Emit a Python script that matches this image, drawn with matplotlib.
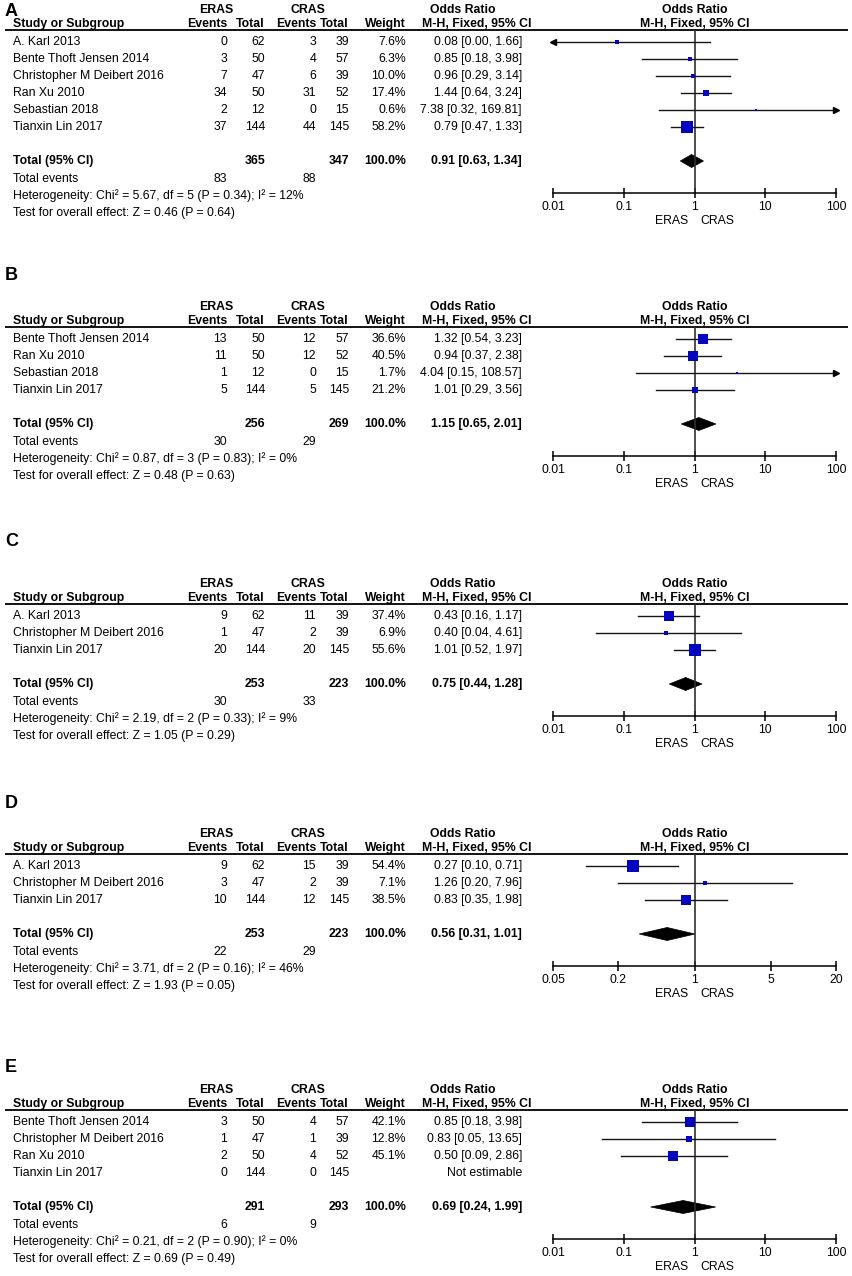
import numpy as np
import matplotlib
matplotlib.use("Agg")
import matplotlib.pyplot as plt
from matplotlib.patches import Polygon
from matplotlib.ticker import FixedLocator, FixedFormatter, NullLocator
from matplotlib.transforms import blended_transform_factory

plt.rcParams['font.family'] = ['Liberation Sans', 'DejaVu Sans']

# ---- data ----
a_studies = ["A. Karl 2013", "Bente Thoft Jensen 2014", "Christopher M Deibert 2016",
             "Ran Xu 2010", "Sebastian 2018", "Tianxin Lin 2017"]
a_eras_ev = [0, 3, 7, 34, 2, 37]
a_eras_tot = [62, 50, 47, 50, 12, 144]
a_cras_ev = [3, 4, 6, 31, 0, 44]
a_cras_tot = [39, 57, 39, 52, 15, 145]
a_weight = [7.6, 6.3, 10.0, 17.4, 0.6, 58.2]
a_or = [0.08, 0.85, 0.96, 1.44, 7.38, 0.79]
a_lo = [0.00, 0.18, 0.29, 0.64, 0.32, 0.47]
a_hi = [1.66, 3.98, 3.14, 3.24, 169.81, 1.33]
a_total = [365, 347, 0.91, 0.63, 1.34]
a_events = [83, 88]
a_het = "Heterogeneity: Chi² = 5.67, df = 5 (P = 0.34); I² = 12%"
a_test = "Test for overall effect: Z = 0.46 (P = 0.64)"

b_studies = ["Bente Thoft Jensen 2014", "Ran Xu 2010", "Sebastian 2018", "Tianxin Lin 2017"]
b_eras_ev = [13, 11, 1, 5]
b_eras_tot = [50, 50, 12, 144]
b_cras_ev = [12, 12, 0, 5]
b_cras_tot = [57, 52, 15, 145]
b_weight = [36.6, 40.5, 1.7, 21.2]
b_or = [1.32, 0.94, 4.04, 1.01]
b_lo = [0.54, 0.37, 0.15, 0.29]
b_hi = [3.23, 2.38, 108.57, 3.56]
b_total = [256, 269, 1.15, 0.65, 2.01]
b_events = [30, 29]
b_het = "Heterogeneity: Chi² = 0.87, df = 3 (P = 0.83); I² = 0%"
b_test = "Test for overall effect: Z = 0.48 (P = 0.63)"

c_studies = ["A. Karl 2013", "Christopher M Deibert 2016", "Tianxin Lin 2017"]
c_eras_ev = [9, 1, 20]
c_eras_tot = [62, 47, 144]
c_cras_ev = [11, 2, 20]
c_cras_tot = [39, 39, 145]
c_weight = [37.4, 6.9, 55.6]
c_or = [0.43, 0.40, 1.01]
c_lo = [0.16, 0.04, 0.52]
c_hi = [1.17, 4.61, 1.97]
c_total = [253, 223, 0.75, 0.44, 1.28]
c_events = [30, 33]
c_het = "Heterogeneity: Chi² = 2.19, df = 2 (P = 0.33); I² = 9%"
c_test = "Test for overall effect: Z = 1.05 (P = 0.29)"

d_studies = ["A. Karl 2013", "Christopher M Deibert 2016", "Tianxin Lin 2017"]
d_eras_ev = [9, 3, 10]
d_eras_tot = [62, 47, 144]
d_cras_ev = [15, 2, 12]
d_cras_tot = [39, 39, 145]
d_weight = [54.4, 7.1, 38.5]
d_or = [0.27, 1.26, 0.83]
d_lo = [0.10, 0.20, 0.35]
d_hi = [0.71, 7.96, 1.98]
d_total = [253, 223, 0.56, 0.31, 1.01]
d_events = [22, 29]
d_het = "Heterogeneity: Chi² = 3.71, df = 2 (P = 0.16); I² = 46%"
d_test = "Test for overall effect: Z = 1.93 (P = 0.05)"

e_studies = ["Bente Thoft Jensen 2014", "Christopher M Deibert 2016", "Ran Xu 2010", "Tianxin Lin 2017"]
e_eras_ev = [3, 1, 2, 0]
e_eras_tot = [50, 47, 50, 144]
e_cras_ev = [4, 1, 4, 0]
e_cras_tot = [57, 39, 52, 145]
e_weight = [42.1, 12.8, 45.1, None]
e_or = [0.85, 0.83, 0.50, None]
e_lo = [0.18, 0.05, 0.09, None]
e_hi = [3.98, 13.65, 2.86, None]
e_total = [291, 293, 0.69, 0.24, 1.99]
e_events = [6, 9]
e_het = "Heterogeneity: Chi² = 0.21, df = 2 (P = 0.90); I² = 0%"
e_test = "Test for overall effect: Z = 0.69 (P = 0.49)"

ticks_wide = [0.01, 0.1, 1, 10, 100]
ticks_wide_labels = ["0.01", "0.1", "1", "10", "100"]
ticks_d = [0.05, 0.2, 1, 5, 20]
ticks_d_labels = ["0.05", "0.2", "1", "5", "20"]

panels = [
    ("A", 10, 30, a_studies, a_eras_ev, a_eras_tot, a_cras_ev, a_cras_tot, a_weight,
     a_or, a_lo, a_hi, a_total, a_events, a_het, a_test, ticks_wide, ticks_wide_labels),
    ("B", 275, 327, b_studies, b_eras_ev, b_eras_tot, b_cras_ev, b_cras_tot, b_weight,
     b_or, b_lo, b_hi, b_total, b_events, b_het, b_test, ticks_wide, ticks_wide_labels),
    ("C", 540, 604, c_studies, c_eras_ev, c_eras_tot, c_cras_ev, c_cras_tot, c_weight,
     c_or, c_lo, c_hi, c_total, c_events, c_het, c_test, ticks_wide, ticks_wide_labels),
    ("D", 802, 854, d_studies, d_eras_ev, d_eras_tot, d_cras_ev, d_cras_tot, d_weight,
     d_or, d_lo, d_hi, d_total, d_events, d_het, d_test, ticks_d, ticks_d_labels),
    ("E", 1066, 1110, e_studies, e_eras_ev, e_eras_tot, e_cras_ev, e_cras_tot, e_weight,
     e_or, e_lo, e_hi, e_total, e_events, e_het, e_test, ticks_wide, ticks_wide_labels),
]

# ---- figure ----
W, H = 852, 1276
FS = 8.8
fig = plt.figure(figsize=(W / 100, H / 100), dpi=100)
bg = fig.add_axes([0, 0, 1, 1])
bg.set_xlim(0, W)
bg.set_ylim(H, 0)
bg.axis("off")

X_STUDY = 13
X_EV1, X_TOT1, X_EV2, X_TOT2, X_W, X_OR = 227, 265, 316, 349, 406, 522
PX0, PX1 = 553, 836
BLUE = "#0505c0"

for (letter, ly, L, studies, e_ev, e_tot, c_ev, c_tot, weight, orr, lo, hi,
     total, events, het, test, ticks, tlabels) in panels:
    bg.text(5, ly + 1, letter, fontsize=13, fontweight="bold", va="center", ha="left")

    # header
    hy1, hy2 = L - 20, L - 6
    bg.text(216, hy1, "ERAS", fontsize=FS, fontweight="bold", ha="center", va="center")
    bg.text(308, hy1, "CRAS", fontsize=FS, fontweight="bold", ha="center", va="center")
    bg.text(463, hy1, "Odds Ratio", fontsize=FS, fontweight="bold", ha="center", va="center")
    bg.text(X_STUDY, hy2, "Study or Subgroup", fontsize=FS, fontweight="bold", va="center")
    for x, s in [(X_EV1, "Events"), (X_TOT1, "Total"), (X_EV2, "Events"),
                 (X_TOT2, "Total"), (X_W, "Weight"), (X_OR + 10, "M-H, Fixed, 95% CI")]:
        bg.text(x, hy2, s, fontsize=FS, fontweight="bold", ha="right", va="center")
    bg.plot([5, 848], [L, L], color="black", lw=1.3, solid_capstyle="butt")

    rows = [L + 12 + 17 * i for i in range(len(studies))]
    for i, y in enumerate(rows):
        bg.text(X_STUDY, y, studies[i], fontsize=FS, va="center")
        for x, v in [(X_EV1, e_ev[i]), (X_TOT1, e_tot[i]), (X_EV2, c_ev[i]), (X_TOT2, c_tot[i])]:
            bg.text(x, y, str(v), fontsize=FS, ha="right", va="center")
        if weight[i] is not None:
            bg.text(X_W, y, "%.1f%%" % weight[i], fontsize=FS, ha="right", va="center")
            bg.text(X_OR, y, "%.2f [%.2f, %.2f]" % (orr[i], lo[i], hi[i]),
                    fontsize=FS, ha="right", va="center")
        else:
            bg.text(X_OR, y, "Not estimable", fontsize=FS, ha="right", va="center")

    ty = rows[-1] + 34
    bg.text(X_STUDY, ty, "Total (95% CI)", fontsize=FS, fontweight="bold", va="center")
    bg.text(X_TOT1, ty, str(total[0]), fontsize=FS, fontweight="bold", ha="right", va="center")
    bg.text(X_TOT2, ty, str(total[1]), fontsize=FS, fontweight="bold", ha="right", va="center")
    bg.text(X_W, ty, "100.0%", fontsize=FS, fontweight="bold", ha="right", va="center")
    bg.text(X_OR, ty, "%.2f [%.2f, %.2f]" % (total[2], total[3], total[4]),
            fontsize=FS, fontweight="bold", ha="right", va="center")
    bg.text(X_STUDY, ty + 18, "Total events", fontsize=FS, va="center")
    bg.text(X_EV1, ty + 18, str(events[0]), fontsize=FS, ha="right", va="center")
    bg.text(X_EV2, ty + 18, str(events[1]), fontsize=FS, ha="right", va="center")
    bg.text(X_STUDY, ty + 35, het, fontsize=FS, va="center")
    bg.text(X_STUDY, ty + 52, test, fontsize=FS, va="center")

    # forest plot
    axis_y = ty + 32
    ax = fig.add_axes([PX0 / W, 1 - axis_y / H, (PX1 - PX0) / W, (axis_y - L) / H])
    ax.set_xscale("log")
    ax.set_xlim(ticks[0], ticks[-1])
    ax.set_ylim(axis_y, L)
    ax.patch.set_visible(False)
    for s in ["top", "left", "right"]:
        ax.spines[s].set_visible(False)
    ax.spines["bottom"].set_linewidth(1.1)
    ax.xaxis.set_major_locator(FixedLocator(ticks))
    ax.xaxis.set_major_formatter(FixedFormatter(tlabels))
    ax.xaxis.set_minor_locator(NullLocator())
    ax.tick_params(axis="x", direction="inout", length=7, width=1.1, labelsize=FS, pad=2.5)
    ax.set_yticks([])
    ax.axvline(1, color="#303030", lw=1.2)

    xmin, xmax = ticks[0], ticks[-1]
    for i, y in enumerate(rows):
        if orr[i] is None:
            continue
        l, h = max(lo[i], xmin), min(hi[i], xmax)
        ax.plot([l, h], [y, y], color="#151515", lw=1.0, clip_on=False)
        if lo[i] < xmin:
            ax.plot([xmin], [y], marker="<", color="black", ms=4.5, clip_on=False)
        if hi[i] > xmax:
            ax.plot([xmax], [y], marker=">", color="black", ms=4.5, clip_on=False)
        side = max(2.5, 11.5 * np.sqrt(weight[i] / 58.2))
        ax.plot([orr[i]], [y], marker="s", color=BLUE, ms=side * 0.72, mew=0, clip_on=False)

    dh = 6.5
    ax.add_patch(Polygon([(total[3], ty), (total[2], ty - dh), (total[4], ty), (total[2], ty + dh)],
                         closed=True, facecolor="black", edgecolor="black", lw=0.5, clip_on=False))

    tr = blended_transform_factory(ax.transData, bg.transData)
    ax.text(1, hy1, "Odds Ratio", transform=tr, fontsize=FS, fontweight="bold", ha="center", va="center")
    ax.text(1, hy2, "M-H, Fixed, 95% CI", transform=tr, fontsize=FS, fontweight="bold",
            ha="center", va="center")
    ax.annotate("ERAS", xy=(1, axis_y + 28), xycoords=tr, xytext=(-6, 0), textcoords="offset pixels",
                fontsize=FS, ha="right", va="center")
    ax.annotate("CRAS", xy=(1, axis_y + 28), xycoords=tr, xytext=(6, 0), textcoords="offset pixels",
                fontsize=FS, ha="left", va="center")

fig.savefig("out.png", dpi=100)
